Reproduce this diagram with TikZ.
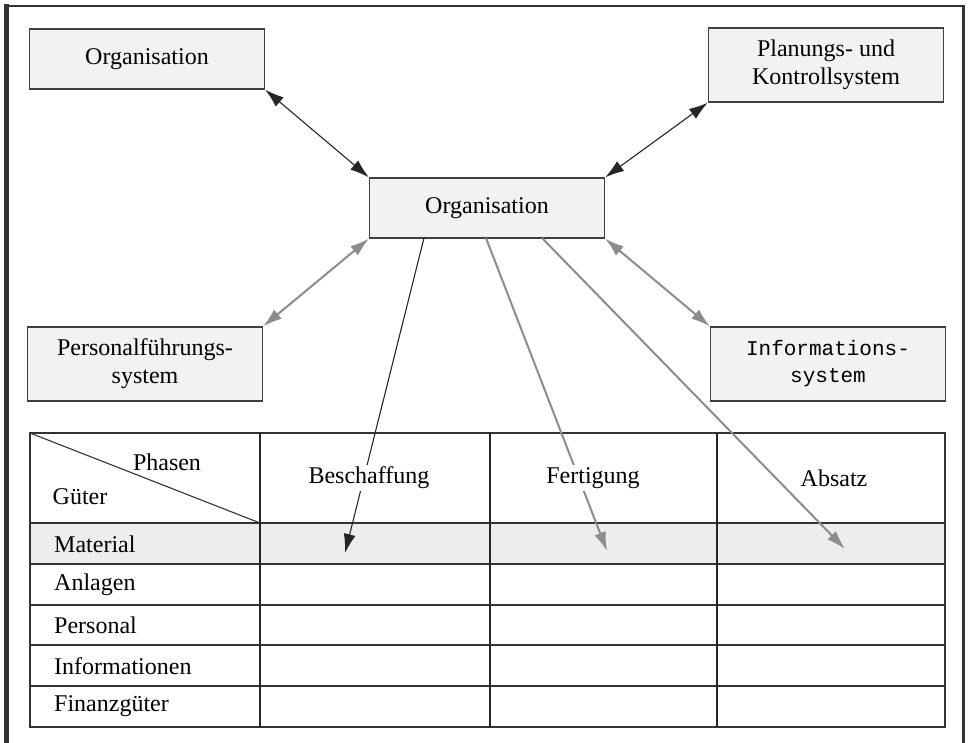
\documentclass[tikz,border=0pt]{standalone}
\usepackage{fontspec}
\setmainfont{Liberation Serif}
\setmonofont{Liberation Mono}
\usetikzlibrary{arrows.meta}
\begin{document}
\begin{tikzpicture}[x=1pt,y=-1pt,
  txt/.style={font=\fontsize{24}{28}\selectfont},
  box/.style={draw=black!75, line width=1.3pt, fill=black!5, minimum width=235, minimum height=60, inner sep=0pt, align=center, txt},
  tall/.style={minimum height=74},
  tip/.style={Latex[length=19pt,width=12pt]},
  dbl/.style={{Latex[length=19pt,width=12pt]}-{Latex[length=19pt,width=12pt]}, line width=1.1pt, black!85},
  dblgray/.style={{Latex[length=19pt,width=12pt]}-{Latex[length=19pt,width=12pt]}, line width=2pt, black!45},
  down/.style={-{Latex[length=19pt,width=12pt]}, line width=1.1pt, black!85},
  downgray/.style={-{Latex[length=19pt,width=12pt]}, line width=2pt, black!45},
  grid/.style={draw=black!80, line width=1.5pt},
  col/.style={draw=black!85, line width=2.2pt},
  lab/.style={txt, fill=white, inner sep=2pt},
  rowlab/.style={txt, anchor=west, inner sep=0pt}
]
\useasboundingbox (0,0) rectangle (968,743);
% frame
\draw[black!80, line width=5pt] (6,4) -- (6,743);
\draw[black!80, line width=1.5pt] (4,6) -- (964,6);
\draw[black!80, line width=3pt] (963,5) -- (963,743);

% boxes
\node[box] (org1) at (147,59) {Organisation};
\node[box, tall] (plan) at (826,65) {Planungs- und\\Kontrollsystem};
\node[box] (org) at (487,208) {Organisation};
\node[box, tall] (pers) at (145,364) {Personalführungs-\\system};
\node[box, tall, font=\ttfamily\fontsize{21}{27}\selectfont] (info) at (828,364) {Informations-\\system};

% double arrows
\draw[dbl] (org1.south east) -- (org.north west);
\draw[dbl] (plan.south west) -- (org.north east);
\draw[dblgray] (org.south west) -- (pers.north east);
\draw[dblgray] (org.south east) -- (info.north west);

% table
\fill[black!7] (30,523) rectangle (945,564);
\coordinate (tl) at (30,433);
\coordinate (br) at (945,727);
\foreach \y in {523,564,605,645,686} \draw[grid] (30,\y) -- (945,\y);
\draw[grid] (tl) rectangle (br);
\foreach \x in {260,490,717} \draw[col] (\x,433) -- (\x,727);
\draw[black!80, line width=1.1pt] (30,433) -- (260,523);
\node[txt, fill=white, inner sep=1pt] (phasen) at (167,462) {Phasen};
\node[txt] (gueter) at (80,497) {Güter};
\node[rowlab] (r1) at (54,544) {Material};
\node[rowlab] (r2) at (54,585) {Anlagen};
\node[rowlab] (r3) at (54,625) {Personal};
\node[rowlab] (r4) at (54,666) {Informationen};
\node[rowlab] (r5) at (54,706) {Finanzgüter};

% downward arrows
\coordinate (b1) at (424,238);
\coordinate (b2) at (345,553);
\coordinate (f1) at (486,238);
\coordinate (f2) at (607,551);
\coordinate (a1) at (542,238);
\coordinate (a2) at (845,549);
\draw[down] (b1) -- (b2);
\draw[downgray] (f1) -- (f2);
\draw[downgray] (a1) -- (a2);
\node[lab] (besch) at (369,478) {Beschaffung};
\node[lab] (fert) at (593,478) {Fertigung};
\node[lab] (abs) at (834,478) {Absatz};
\end{tikzpicture}
\end{document}
